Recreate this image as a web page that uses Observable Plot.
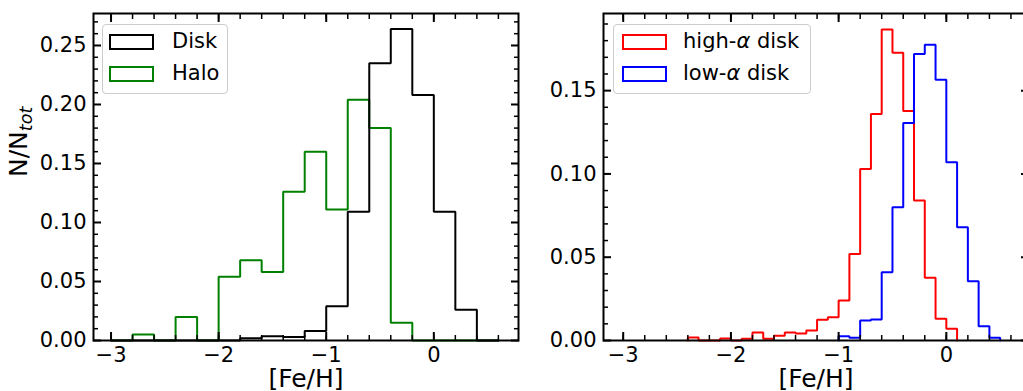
<!DOCTYPE html>
<html><head><meta charset="utf-8">
<script src="https://cdn.jsdelivr.net/npm/d3@7"></script>
<script src="https://cdn.jsdelivr.net/npm/@observablehq/plot@0.6"></script>
<style>
html,body{margin:0;padding:0;background:#fff;overflow:hidden;width:1023px;height:391px}
#wrap{position:relative;width:1023px;height:391px;overflow:hidden;font-family:"DejaVu Sans",sans-serif;background:#fff}
.panel{position:absolute;top:0;height:391px}
.panel svg{max-width:none !important;display:block}
.legend{position:absolute;border:1px solid #cccccc;border-radius:4px;background:rgba(255,255,255,0.8);box-sizing:border-box}
.sw{position:absolute;box-sizing:border-box;border:2px solid;background:transparent}
.lt{position:absolute;font-size:21px;line-height:21px;white-space:nowrap;color:#000}
</style></head><body><div id="wrap"></div>
<script>
// ---------- data ----------
// Left panel: bins of width 0.2 starting at -3.0
const leftBinStart = -3.0;
const leftBinWidth = 0.2;
const diskValues = [0, 0, 0, 0, 0, 0, 0.002, 0.0035, 0.003, 0.008, 0.029, 0.109, 0.235, 0.264, 0.208, 0.109, 0.026, 0];
const haloValues = [0, 0.005, 0, 0.02, 0, 0.054, 0.068, 0.058, 0.126, 0.160, 0.111, 0.204, 0.180, 0.015, 0, 0, 0, 0];

// Right panel: bins of width 0.1
const rightBinWidth = 0.1;
const highAlphaStart = -2.4;
const highAlphaValues = [0.0018, 0, 0, 0.0012, 0, 0.001, 0.0048, 0.001, 0.0028, 0.0048, 0.0042, 0.006, 0.0124, 0.014,
  0.024, 0.052, 0.103, 0.136, 0.1867, 0.1727, 0.1377, 0.084, 0.0376, 0.013, 0.007];
const lowAlphaStart = -1.0;
const lowAlphaValues = [0.0026, 0.0016, 0.012, 0.0126, 0.041, 0.080, 0.1305, 0.172, 0.1775, 0.1565, 0.107, 0.068, 0.0356, 0.0086, 0.0016];

// series names / colours
const leftNames = ["Disk", "Halo"];
const leftColors = ["#000000", "#008000"];
const rightNames = ["high-α disk", "low-α disk"];
const rightColors = ["#ff0000", "#0000ff"];

// ticks
const xMajorTicks = [-3, -2, -1, 0];
const xMinorTicks = [-3.0, -2.8, -2.6, -2.4, -2.2, -2.0, -1.8, -1.6, -1.4, -1.2, -1.0, -0.8, -0.6, -0.4, -0.2, 0.0, 0.2, 0.4, 0.6];
const yMajorLeft = [0, 0.05, 0.10, 0.15, 0.20, 0.25];
const yMinorLeft = [0.01, 0.02, 0.03, 0.04, 0.06, 0.07, 0.08, 0.09, 0.11, 0.12, 0.13, 0.14, 0.16, 0.17, 0.18, 0.19, 0.21, 0.22, 0.23, 0.24, 0.26, 0.27];
const yMajorRight = [0, 0.05, 0.10, 0.15];
const yMinorRight = [0.01, 0.02, 0.03, 0.04, 0.06, 0.07, 0.08, 0.09, 0.11, 0.12, 0.13, 0.14, 0.16, 0.17, 0.18, 0.19];

const xLabel = "[Fe/H]";
const yLabelMain = "N/N";
const yLabelSub = "tot";

// ---------- helpers ----------
function steps(start, width, values) {
  const pts = [{x: start, y: 0}];
  values.forEach((v, i) => pts.push({x: start + i * width, y: v}));
  pts.push({x: start + values.length * width, y: 0});
  return pts;
}
const fmtX = d => (d < 0 ? "\u2212" + Math.abs(d) : String(d));
const fmtY = d3.format(".2f");

function axes(yMajor, yMinor) {
  const tk = {fill: "none", stroke: "black", label: null};
  return [
    Plot.axisX(xMajorTicks, {anchor: "bottom", tickSize: 0, tickPadding: 7, tickFormat: fmtX, fontSize: 21, label: null}),
    Plot.axisY(yMajor, {anchor: "left", tickSize: 0, tickPadding: 7, tickFormat: fmtY, fontSize: 21, label: null}),
    Plot.axisX(xMinorTicks, {...tk, anchor: "bottom", tickSize: 5, dy: -5, strokeWidth: 1.5}),
    Plot.axisX(xMinorTicks, {...tk, anchor: "top", tickSize: 5, dy: 5, strokeWidth: 1.5}),
    Plot.axisX(xMajorTicks, {...tk, anchor: "bottom", tickSize: 8, dy: -8, strokeWidth: 2}),
    Plot.axisX(xMajorTicks, {...tk, anchor: "top", tickSize: 8, dy: 8, strokeWidth: 2}),
    Plot.axisY(yMinor, {...tk, anchor: "left", tickSize: 5, dx: 5, strokeWidth: 1.5}),
    Plot.axisY(yMinor, {...tk, anchor: "right", tickSize: 5, dx: -5, strokeWidth: 1.5}),
    Plot.axisY(yMajor, {...tk, anchor: "left", tickSize: 8, dx: 8, strokeWidth: 2}),
    Plot.axisY(yMajor, {...tk, anchor: "right", tickSize: 8, dx: -8, strokeWidth: 2})
  ];
}

function panel({series, xDomain, yDomain, yMajor, yMinor, width, marginLeft, marginRight, ylabel}) {
  const marks = series.map(s => Plot.line(steps(s.start, s.width, s.values), {
    x: "x", y: "y", curve: "step-after", stroke: s.color, strokeWidth: 2, strokeLinejoin: "miter"
  }));
  marks.push(Plot.frame({stroke: "black", strokeWidth: 2}));
  marks.push(...axes(yMajor, yMinor));
  marks.push(Plot.text([xLabel], {frameAnchor: "bottom", dy: 29, lineAnchor: "top", text: d => d, fontSize: 25}));
  if (ylabel) marks.push(Plot.text([ylabel], {frameAnchor: "left", dx: -75, rotate: -90, text: d => d, fontSize: 25}));
  return Plot.plot({
    width, height: 391, marginLeft, marginRight, marginTop: 13, marginBottom: 51,
    x: {domain: xDomain, label: null},
    y: {domain: yDomain, label: null},
    style: {fontFamily: "DejaVu Sans", fontSize: "21px", background: "transparent", maxWidth: "none", overflow: "visible"},
    marks
  });
}

const wrap = document.getElementById("wrap");

function addPanel(svg, left, width) {
  const div = document.createElement("div");
  div.className = "panel";
  div.style.left = left + "px";
  div.style.width = width + "px";
  div.appendChild(svg);
  wrap.appendChild(div);
}

function addLegend(box, names, colors, swLeft, textLeft) {
  const lg = document.createElement("div");
  lg.className = "legend";
  Object.assign(lg.style, {left: box.left + "px", top: box.top + "px", width: box.width + "px", height: box.height + "px"});
  wrap.appendChild(lg);
  names.forEach((n, i) => {
    const sw = document.createElement("div");
    sw.className = "sw";
    Object.assign(sw.style, {left: swLeft + "px", top: (33.5 + i * 32) + "px", width: "45px", height: "16px", borderColor: colors[i]});
    wrap.appendChild(sw);
    const t = document.createElement("div");
    t.className = "lt";
    Object.assign(t.style, {left: textLeft + "px", top: (31.2 + i * 32) + "px"});
    t.innerHTML = n.replace("α", '<span style="font-style:italic">α</span>');
    wrap.appendChild(t);
  });
}

// left panel
const leftSvg = panel({
  series: [
    {start: leftBinStart, width: leftBinWidth, values: haloValues, color: leftColors[1]},
    {start: leftBinStart, width: leftBinWidth, values: diskValues, color: leftColors[0]}
  ],
  xDomain: [-3.163, 0.787], yDomain: [0, 0.2771],
  yMajor: yMajorLeft, yMinor: yMinorLeft,
  width: 521, marginLeft: 93, marginRight: 3, ylabel: yLabelMain
});
addPanel(leftSvg, 0, 521);

// right panel
const rightSvg = panel({
  series: [
    {start: highAlphaStart, width: rightBinWidth, values: highAlphaValues, color: rightColors[0]},
    {start: lowAlphaStart, width: rightBinWidth, values: lowAlphaValues, color: rightColors[1]}
  ],
  xDomain: [-3.183, 0.763], yDomain: [0, 0.1963],
  yMajor: yMajorRight, yMinor: yMinorRight,
  width: 520, marginLeft: 82, marginRight: 13
});
addPanel(rightSvg, 521, 520);

// subscript on y label
d3.select(leftSvg).selectAll("text").filter(function() { return this.textContent === yLabelMain; })
  .append("tspan").attr("font-size", 17.5).attr("font-style", "italic").attr("dy", "0.3em").text(yLabelSub);

// legends
addLegend({left: 102, top: 24, width: 126, height: 70}, leftNames, leftColors, 109, 172);
addLegend({left: 613, top: 24, width: 198, height: 70}, rightNames, rightColors, 622, 683);
</script></body></html>
